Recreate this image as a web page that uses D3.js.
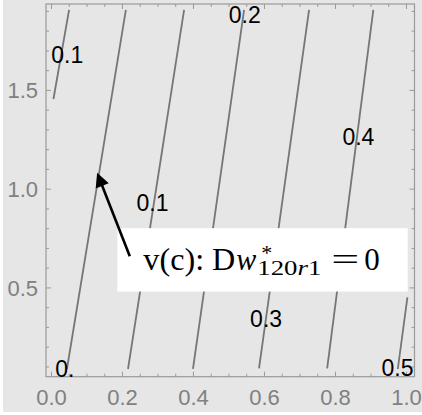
<!DOCTYPE html>
<html>
<head>
<meta charset="utf-8">
<script src="https://cdn.jsdelivr.net/npm/d3@7/dist/d3.min.js"></script>
<style>
  html, body { margin: 0; padding: 0; background: #ffffff; }
  svg { display: block; }
</style>
</head>
<body>
<svg id="chart" width="422" height="415"></svg>
<script>
// Contour lines of the level set, each given by its two end points (x, y)
const contourTopX    = [0.051, 0.211, 0.375, 0.544, 0.727, 0.908, 1.004];
const contourTopY    = [1.905, 1.905, 1.905, 1.905, 1.905, 1.905, 0.450];
const contourBottomX = [0.007, 0.045, 0.217, 0.400, 0.586, 0.778, 0.977];
const contourBottomY = [1.454, 0.087, 0.087, 0.087, 0.090, 0.090, 0.087];

// Contour labels and where they sit
const labelTexts = ["0.1", "0.", "0.1", "0.2", "0.3", "0.4", "0.5"];
const labelX     = [0.046, 0.039, 0.286, 0.546, 0.606, 0.866, 0.976];
const labelY     = [1.678, 0.087, 0.928, 1.882, 0.341, 1.262, 0.092];

// Frame ticks
const xMajorTicks = [0.0, 0.2, 0.4, 0.6, 0.8, 1.0];
const xTickLabels = ["0.0", "0.2", "0.4", "0.6", "0.8", "1.0"];
const xMinorTicks = [0.05, 0.1, 0.15, 0.25, 0.3, 0.35, 0.45, 0.5, 0.55, 0.65, 0.7, 0.75, 0.85, 0.9, 0.95];
const yMajorTicks = [0.5, 1.0, 1.5];
const yTickLabels = ["0.5", "1.0", "1.5"];
const yMinorTicks = [0.1, 0.2, 0.3, 0.4, 0.6, 0.7, 0.8, 0.9, 1.1, 1.2, 1.3, 1.4, 1.6, 1.7, 1.8, 1.9];

// Callout pointing at the zero contour
const arrowTail = [0.222, 0.658];
const arrowTip  = [0.130, 1.080];
const boxX = [0.187, 1.005];
const boxY = [0.479, 0.800];

const svg = d3.select("#chart");
const W = 422, H = 415;
const pL = 46, pR = 414.5, pT = 4, pB = 376.7;

const x = d3.scaleLinear().domain([-0.014, 1.024]).range([pL, pR]);
const y = d3.scaleLinear().domain([0.048, 1.935]).range([pB, pT]);

// page background
svg.append("rect").attr("x", 3).attr("y", 0).attr("width", W - 3).attr("height", 412)
  .attr("fill", "#e6e6e6");

// plot area
svg.append("rect").attr("x", pL).attr("y", pT)
  .attr("width", pR - pL).attr("height", pB - pT)
  .attr("fill", "#e6e6e6");

const frameColor = "#9a9a9a";
const tickColor = "#808080";

// axes on all four sides, ticks pointing inward
function frameAxis(gen, scale, majors, minors, labels, transform, showLabels) {
  const g = svg.append("g").attr("transform", transform);
  const axMaj = gen(scale).tickValues(majors).tickSizeInner(-5).tickSizeOuter(0)
    .tickPadding(showLabels ? 13 : 0)
    .tickFormat((d, i) => showLabels ? labels[i] : "");
  g.call(axMaj);
  const axMin = gen(scale).tickValues(minors).tickSizeInner(-3).tickSizeOuter(0).tickFormat("");
  const g2 = svg.append("g").attr("transform", transform);
  g2.call(axMin);
  [g, g2].forEach(gg => {
    gg.select(".domain").remove();
    gg.selectAll(".tick line").attr("stroke", frameColor).attr("stroke-width", 1);
  });
  g.selectAll(".tick text")
    .attr("fill", tickColor)
    .attr("font-family", "'Liberation Sans', Arial, sans-serif")
    .attr("font-size", 22);
  return g;
}

const gxB = frameAxis(d3.axisBottom, x, xMajorTicks, xMinorTicks, xTickLabels, `translate(0,${pB})`, true);
gxB.selectAll(".tick text").attr("dy", "0.71em").attr("y", 12.5);
frameAxis(d3.axisTop, x, xMajorTicks, xMinorTicks, xTickLabels, `translate(0,${pT})`, false);
const gyL = frameAxis(d3.axisLeft, y, yMajorTicks, yMinorTicks, yTickLabels, `translate(${pL},0)`, true);
gyL.selectAll(".tick text").attr("x", -8).attr("dy", "0.36em");
frameAxis(d3.axisRight, y, yMajorTicks, yMinorTicks, yTickLabels, `translate(${pR},0)`, false);

// frame
svg.append("rect").attr("x", pL).attr("y", pT)
  .attr("width", pR - pL).attr("height", pB - pT)
  .attr("fill", "none").attr("stroke", frameColor).attr("stroke-width", 1.2);

// contour lines
const line = d3.line().x(d => x(d[0])).y(d => y(d[1]));
const contours = contourTopX.map((_, i) => [
  [contourTopX[i], contourTopY[i]],
  [contourBottomX[i], contourBottomY[i]]
]);
svg.append("g").selectAll("path").data(contours).join("path")
  .attr("d", line)
  .attr("fill", "none")
  .attr("stroke", "#767676")
  .attr("stroke-width", 1.8);

// contour labels
svg.append("g").selectAll("text").data(labelTexts).join("text")
  .attr("x", (d, i) => x(labelX[i]))
  .attr("y", (d, i) => y(labelY[i]))
  .attr("dy", "0.36em")
  .attr("text-anchor", "middle")
  .attr("font-family", "'Liberation Sans', Arial, sans-serif")
  .attr("font-size", 23)
  .attr("fill", "#000")
  .text(d => d);

// callout box
const bx0 = x(boxX[0]), bx1 = x(boxX[1]), by0 = y(boxY[1]), by1 = y(boxY[0]);
svg.append("rect").attr("x", bx0).attr("y", by0)
  .attr("width", bx1 - bx0).attr("height", by1 - by0)
  .attr("fill", "#ffffff");

// arrow
const tx = x(arrowTail[0]), ty = y(arrowTail[1]);
const hx = x(arrowTip[0]), hy = y(arrowTip[1]);
const ang = Math.atan2(hy - ty, hx - tx);
const headLen = 14, headHalf = 7;
const baseX = hx - headLen * Math.cos(ang), baseY = hy - headLen * Math.sin(ang);
svg.append("line")
  .attr("x1", tx).attr("y1", ty).attr("x2", baseX + 2 * Math.cos(ang)).attr("y2", baseY + 2 * Math.sin(ang))
  .attr("stroke", "#000").attr("stroke-width", 2.6);
svg.append("path")
  .attr("d", `M${hx},${hy} L${baseX - headHalf * Math.sin(ang)},${baseY + headHalf * Math.cos(ang)} ` +
             `L${baseX + headHalf * Math.sin(ang)},${baseY - headHalf * Math.cos(ang)} Z`)
  .attr("fill", "#000");

// callout text: v(c): Dw*_{120r1} = 0
const serif = "'Liberation Serif', 'Times New Roman', serif";
const base = by0 + 42;
const ann = svg.append("g").attr("fill", "#000").attr("font-family", serif);
ann.append("text").attr("x", bx0 + 26).attr("y", base).attr("font-size", 31)
  .attr("textLength", 92).attr("lengthAdjust", "spacingAndGlyphs")
  .text("v(c): D");
ann.append("text").attr("x", bx0 + 119).attr("y", base).attr("font-size", 32)
  .attr("font-style", "italic").attr("textLength", 20).attr("lengthAdjust", "spacingAndGlyphs")
  .text("w");
ann.append("text").attr("x", bx0 + 144).attr("y", base - 10).attr("font-size", 22)
  .text("*");
const sub = ann.append("text").attr("x", bx0 + 140).attr("y", base + 5).attr("font-size", 20)
  .attr("textLength", 64).attr("lengthAdjust", "spacingAndGlyphs");
sub.append("tspan").text("120");
sub.append("tspan").attr("font-style", "italic").text("r");
sub.append("tspan").text("1");
ann.append("text").attr("x", bx0 + 214).attr("y", base).attr("font-size", 31)
  .attr("textLength", 28).attr("lengthAdjust", "spacingAndGlyphs").text("=");
ann.append("text").attr("x", bx0 + 247).attr("y", base).attr("font-size", 31)
  .text("0");
</script>
</body>
</html>
